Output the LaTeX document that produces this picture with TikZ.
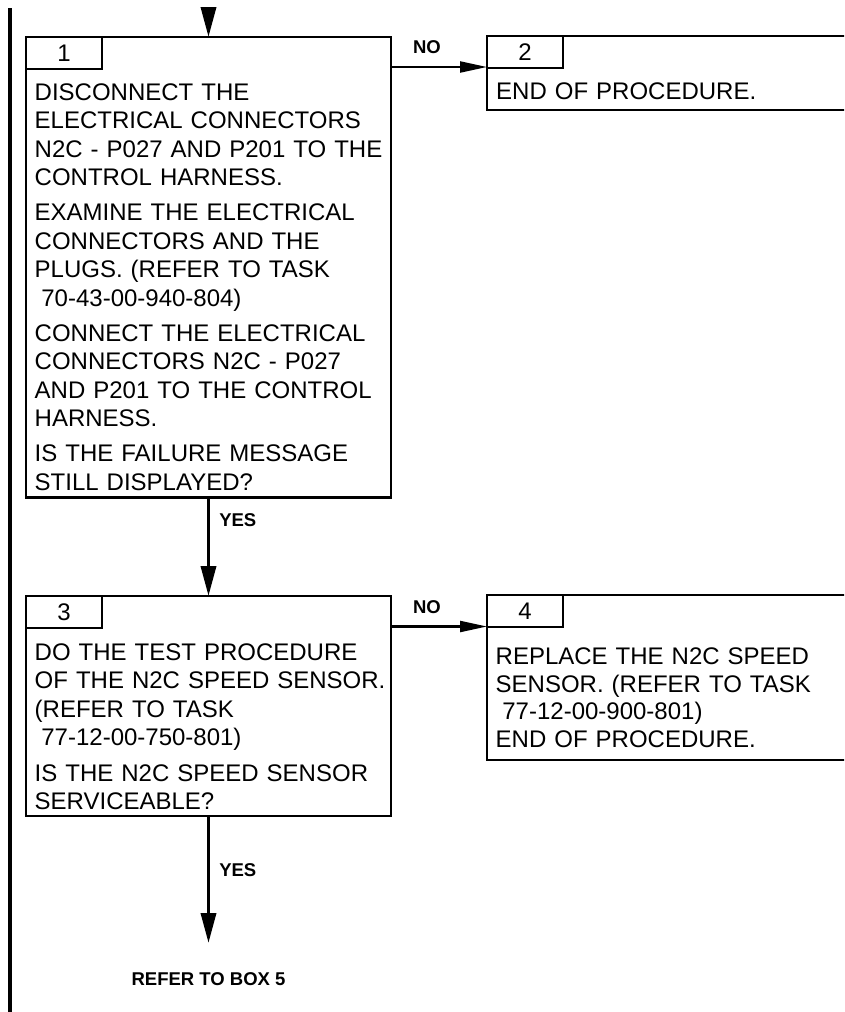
\documentclass[tikz,border=0pt]{standalone}
\usepackage{fontspec}
\setmainfont{Liberation Sans}
\usepackage{tikz}
\usetikzlibrary{arrows.meta,positioning,calc}

\begin{document}
\begin{tikzpicture}[
  x=1pt, y=1pt,
  node distance=29pt,
  box/.style={draw, line width=2.2pt, anchor=north west, inner sep=0pt, outer sep=0pt},
  tab/.style={draw, line width=2.2pt, anchor=north west, minimum width=76pt, minimum height=32pt, inner sep=0pt, outer sep=0pt, font=\fontsize{24}{28.5}\selectfont},
  txt/.style={anchor=north west, inner sep=0pt, text width=360pt, align=left, font=\fontsize{24}{28.5}\selectfont},
  lbl/.style={inner sep=0pt, font=\fontsize{18.5}{20}\selectfont\bfseries},
  arrow/.style={-{Triangle[length=30pt, width=15pt]}, line width=3.5pt},
  harrow/.style={-{Triangle[length=27pt, width=11pt]}, line width=2.2pt}
]
\useasboundingbox (0,0) rectangle (844,-1012);
\clip (0,0) rectangle (844,-1012);

% change bar
\draw[line width=4.5pt] (10,-8) -- (10,-1012);

\node[box, minimum width=365pt, minimum height=460.5pt] (box1) at (26,-37) {};
\node[tab] (tab1) at (box1.north west) {1};
\node[txt] (txt1) at ($(box1.north west)+(8.5,-46.5)$) {DISCONNECT THE\\ELECTRICAL CONNECTORS\\N2C - P027 AND P201 TO THE\\CONTROL HARNESS.\\[6.5pt]EXAMINE THE ELECTRICAL\\CONNECTORS AND THE\\PLUGS. (REFER TO TASK\\\hspace*{6.7pt}70-43-00-940-804)\\[6.5pt]CONNECT THE ELECTRICAL\\CONNECTORS N2C - P027\\AND P201 TO THE CONTROL\\HARNESS.\\[6.5pt]IS THE FAILURE MESSAGE\\STILL DISPLAYED?};

\node[box, minimum width=400pt, minimum height=74pt] (box2) at (487,-36) {};
\node[tab] (tab2) at (box2.north west) {2};
\node[txt] (txt2) at ($(box2.north west)+(9,-47)$) {END OF PROCEDURE.};

\node[box, minimum width=365pt, minimum height=220pt] (box3) at (26,-596) {};
\node[tab] (tab3) at (box3.north west) {3};
\node[txt] (txt3) at ($(box3.north west)+(8.5,-47.4)$) {DO THE TEST PROCEDURE\\OF THE N2C SPEED SENSOR.\\(REFER TO TASK\\\hspace*{6.7pt}77-12-00-750-801)\\[7pt]IS THE N2C SPEED SENSOR\\SERVICEABLE?};

\node[box, minimum width=400pt, minimum height=165pt] (box4) at (487,-595) {};
\node[tab] (tab4) at (box4.north west) {4};
\node[txt, font=\fontsize{24}{27.5}\selectfont] (txt4) at ($(box4.north west)+(8.5,-53)$) {REPLACE THE N2C SPEED\\SENSOR. (REFER TO TASK\\\hspace*{6.7pt}77-12-00-900-801)\\END OF PROCEDURE.};

\coordinate (entry) at (208.5,-8);
\coordinate (no1) at ([yshift=-30pt]box1.north east);
\coordinate (no2) at ([yshift=-30.5pt]box3.north east);
\coordinate (exit) at (208.5,-943);
\node[lbl, below=of exit] (refer) {REFER TO BOX 5};

\draw[arrow] (entry) -- (box1.north);
\draw[harrow] (no1) -- node[lbl, pos=0.375, above=12pt] {NO} (no1 -| box2.west);
\draw[arrow] (box1.south) -- node[lbl, pos=0.23, right=9pt] {YES} (box3.north);
\draw[harrow] (no2) -- node[lbl, pos=0.375, above=12pt] {NO} (no2 -| box4.west);
\draw[arrow] (box3.south) -- node[lbl, pos=0.425, right=9pt] {YES} (exit);
\end{tikzpicture}
\end{document}
